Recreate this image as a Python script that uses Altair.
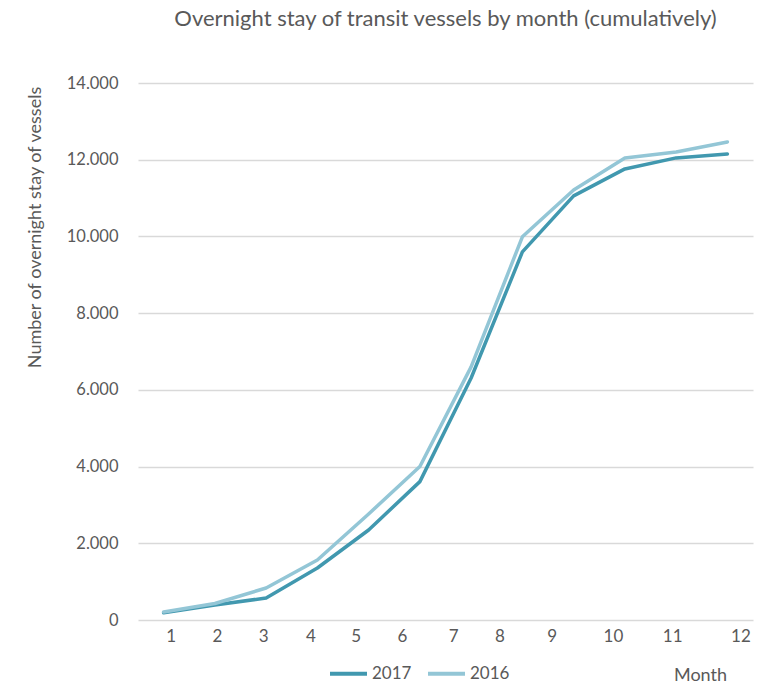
import altair as alt
import pandas as pd

# Cumulative overnight stays of transit vessels per month
months = list(range(1, 13))
stays_2017 = [190, 390, 574, 1356, 2347, 3607, 6310, 9596, 11056, 11760, 12047, 12151]
stays_2016 = [210, 430, 834, 1565, 2764, 4000, 6600, 9990, 11212, 12047, 12203, 12464]
years = ["2017", "2016"]
colors = ["#4198AF", "#93C6D6"]

df = pd.concat([
    pd.DataFrame({"Month": months, "Stays": stays_2017, "Year": "2017"}),
    pd.DataFrame({"Month": months, "Stays": stays_2016, "Year": "2016"}),
])

TEXT = "#595959"
FONT = "Lato"

chart = (
    alt.Chart(df)
    .mark_line(strokeWidth=3.5, strokeCap="round", strokeJoin="round")
    .encode(
        x=alt.X(
            "Month:O",
            scale=alt.Scale(type="point", padding=0.5),
            axis=alt.Axis(
                title="Month",
                titleX=562,
                titleY=55,
                titleBaseline="middle",
                titleAlign="center",
                titleAngle=0,
                titleFontWeight="normal",
                titleFontSize=18,
                titleColor=TEXT,
                titleFont=FONT,
                labelAngle=0,
                labelFontSize=17,
                labelColor=TEXT,
                labelFont=FONT,
                labelPadding=8,
                labelOffset={"expr": "[7,2,-3,-7,-13,-18,-18,-23,-22,-12,-4,13][datum.value-1]"},
                domain=False,
                ticks=False,
                grid=False,
            ),
        ),
        y=alt.Y(
            "Stays:Q",
            scale=alt.Scale(domain=[0, 14000], nice=False),
            axis=alt.Axis(
                title="Number of overnight stay of vessels",
                titleX=-103,
                titleY=144,
                titleAlign="center",
                titleBaseline="middle",
                titleFontWeight="normal",
                titleFontSize=18,
                titleColor=TEXT,
                titleFont=FONT,
                values=list(range(0, 14001, 2000)),
                labelExpr="replace(format(datum.value, ','), ',', '.')",
                labelFontSize=16.5,
                labelColor=TEXT,
                labelFont=FONT,
                labelPadding=20,
                domain=False,
                ticks=False,
                grid=True,
                gridColor="#d9d9d9",
                gridWidth=1.5,
            ),
        ),
        color=alt.Color(
            "Year:N",
            sort=years,
            scale=alt.Scale(domain=years, range=colors),
            legend=alt.Legend(
                title=None,
                orient="none",
                legendX=190,
                legendY=570,
                padding=0,
                direction="horizontal",
                symbolType="stroke",
                symbolStrokeWidth=4,
                symbolSize=1369,
                labelFontSize=17,
                labelColor=TEXT,
                labelFont=FONT,
                labelOffset=3,
                columnPadding=8,
            ),
        ),
    )
    .properties(
        width=615,
        height=537,
        background="white",
        padding={"left": 138, "top": 83, "right": 18, "bottom": 66},
        autosize=alt.AutoSizeParams(type="none"),
        title=alt.TitleParams(
            "Overnight stay of transit vessels by month (cumulatively)",
            fontSize=22,
            font=FONT,
            fontWeight="normal",
            color=TEXT,
            anchor="middle",
            offset=44,
        ),
    )
    .configure_view(strokeWidth=0, stroke="transparent")
)

chart.save("out.html", embed_options={"renderer": "svg", "actions": False})
